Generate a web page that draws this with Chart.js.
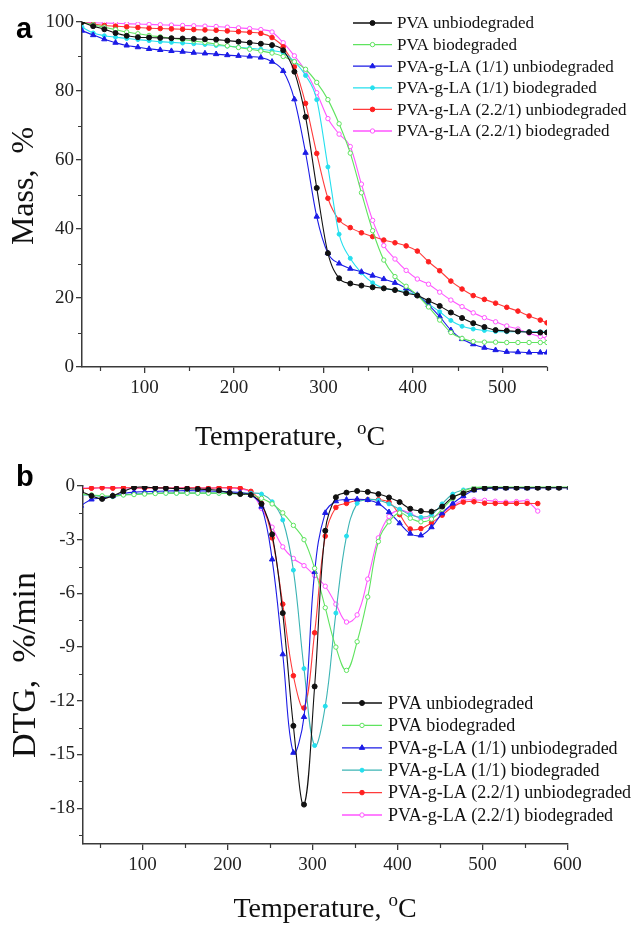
<!DOCTYPE html>
<html lang="en">
<head>
<meta charset="utf-8">
<script src="https://cdn.jsdelivr.net/npm/chart.js"></script>
<style>
    html, body { margin: 0; padding: 0; background: #fff; }
    #wrap { position: relative; width: 636px; height: 926px; }
    #wrap canvas { position: absolute; left: 0; }
</style>
</head>
<body>
<div id="wrap">
    <canvas id="tga" width="636" height="463" style="top:0"></canvas>
    <canvas id="dtg" width="636" height="463" style="top:463px"></canvas>
</div>
<script>
// ---- data ----
const seriesNames = [
    'PVA unbiodegraded',
    'PVA biodegraded',
    'PVA-g-LA (1/1) unbiodegraded',
    'PVA-g-LA (1/1) biodegraded',
    'PVA-g-LA (2.2/1) unbiodegraded',
    'PVA-g-LA (2.2/1) biodegraded'
];

// panel a: mass %
const tempsTga = [30, 42.5, 55, 67.5, 80, 92.5, 105, 117.5, 130, 142.5, 155, 167.5, 180, 192.5, 205, 217.5, 230, 242.5, 255, 267.5,
    280, 292.5, 305, 317.5, 330, 342.5, 355, 367.5, 380, 392.5, 405, 417.5, 430, 442.5, 455, 467.5, 480, 492.5, 505, 517.5, 530, 542.5, 550];
const massPvaUnbio = [100, 98.8, 97.9, 96.8, 96.0, 95.6, 95.5, 95.4, 95.3, 95.2, 95.1, 95.0, 94.9, 94.6, 94.3, 94.0, 93.7, 93.3, 91.8, 85.6,
    72.5, 51.9, 33.0, 25.7, 24.2, 23.6, 23.1, 22.8, 22.3, 21.4, 20.7, 19.2, 17.7, 15.8, 14.2, 12.7, 11.6, 10.7, 10.5, 10.3, 10.1, 10.0, 10.0];
const massPvaBio = [100, 99.2, 98.5, 97.8, 97.1, 96.6, 96.1, 95.7, 95.3, 94.9, 94.5, 94.1, 93.6, 93.1, 92.6, 92.1, 91.6, 91.0, 90.0, 88.5,
    86.3, 82.5, 77.5, 70.5, 62.0, 50.5, 39.5, 31.0, 26.2, 23.4, 20.8, 17.4, 13.6, 10.0, 8.3, 7.4, 7.2, 7.2, 7.1, 7.1, 7.1, 7.1, 7.1];
const massLa11Unbio = [97.5, 96.2, 95.0, 94.0, 93.2, 92.7, 92.2, 91.9, 91.6, 91.4, 91.1, 90.9, 90.7, 90.4, 90.2, 90.0, 89.7, 88.5, 85.8, 77.6,
    62.1, 43.6, 33.0, 30.0, 28.5, 27.6, 26.5, 25.5, 24.4, 22.8, 20.9, 18.0, 14.6, 10.7, 8.1, 6.6, 5.6, 4.9, 4.4, 4.3, 4.2, 4.2, 4.2];
const massLa11Bio = [98.5, 96.8, 96.0, 95.6, 95.2, 94.9, 94.6, 94.3, 94.1, 93.9, 93.7, 93.5, 93.2, 93.0, 92.7, 92.4, 92.1, 91.7, 91.0, 88.5,
    84.5, 77.5, 58.0, 38.5, 31.5, 27.3, 24.4, 22.8, 22.3, 21.8, 20.8, 18.3, 16.0, 13.5, 11.8, 11.0, 10.6, 10.3, 10.2, 10.2, 10.2, 10.2, 10.2];
const massLa22Unbio = [100, 99.4, 99.0, 98.8, 98.6, 98.4, 98.2, 98.1, 98.0, 97.9, 97.8, 97.7, 97.6, 97.4, 97.2, 97.0, 96.7, 95.5, 92.8, 87.0,
    76.4, 61.9, 48.9, 42.6, 40.4, 38.9, 37.8, 36.8, 36.0, 35.1, 33.6, 30.5, 27.9, 24.9, 22.6, 20.7, 19.6, 18.5, 17.3, 16.2, 14.8, 13.6, 12.8];
const massLa22Bio = [100, 99.8, 99.7, 99.6, 99.5, 99.4, 99.3, 99.2, 99.1, 99.0, 98.9, 98.8, 98.7, 98.5, 98.3, 98.1, 97.8, 97.1, 94.0, 90.2,
    85.8, 79.5, 72.0, 67.5, 63.9, 53.0, 42.5, 35.2, 31.3, 28.0, 25.5, 24.0, 21.7, 19.4, 17.5, 15.7, 14.3, 13.1, 11.9, 11.0, 9.8, 8.8, 8.3];
const tgaXTicks = [100, 200, 300, 400, 500];
const tgaYTicks = [0, 20, 40, 60, 80, 100];

// panel b: DTG %/min
const tempsDtg = [27.5, 40, 52.5, 65, 77.5, 90, 102.5, 115, 127.5, 140, 152.5, 165, 177.5, 190, 202.5, 215, 227.5, 240, 252.5, 265,
    277.5, 290, 302.5, 315, 327.5, 340, 352.5, 365, 377.5, 390, 402.5, 415, 427.5, 440, 452.5, 465, 477.5, 490, 502.5, 515,
    527.5, 540, 552.5, 565, 577.5, 590, 602.5];
const dtgPvaUnbio = [-0.3, -0.55, -0.72, -0.55, -0.3, -0.08, -0.06, -0.1, -0.12, -0.14, -0.15, -0.17, -0.2, -0.25, -0.38, -0.45, -0.5, -1.0, -2.7, -7.1,
    -13.4, -17.8, -11.2, -2.5, -0.63, -0.37, -0.28, -0.33, -0.45, -0.64, -0.9, -1.27, -1.4, -1.43, -1.15, -0.62, -0.41, -0.2, -0.12, -0.1,
    -0.1, -0.1, -0.1, -0.1, -0.1, -0.1, -0.1];
const dtgPvaBio = [-0.45, -0.5, -0.55, -0.55, -0.5, -0.48, -0.45, -0.42, -0.4, -0.4, -0.4, -0.4, -0.4, -0.4, -0.42, -0.45, -0.5, -0.69, -1.0, -1.5,
    -2.2, -3.0, -4.6, -6.8, -9.0, -10.3, -8.7, -6.2, -3.1, -2.0, -1.5, -1.8, -2.0, -1.85, -1.3, -0.7, -0.3, -0.1, -0.06, -0.06,
    -0.06, -0.06, -0.06, -0.06, -0.06, -0.06, -0.06];
const dtgLa11Unbio = [-1.1, -0.75, -0.68, -0.55, -0.42, -0.34, -0.32, -0.3, -0.28, -0.27, -0.26, -0.27, -0.28, -0.3, -0.33, -0.37, -0.5, -1.15, -4.1, -9.4,
    -14.9, -12.9, -4.8, -1.5, -0.85, -0.76, -0.74, -0.78, -0.98, -1.46, -2.08, -2.66, -2.76, -2.3, -1.52, -0.98, -0.56, -0.24, -0.14, -0.12,
    -0.12, -0.1, -0.12, -0.1, -0.1, -0.1, -0.1];
const dtgLa11Bio = [-0.5, -0.52, -0.58, -0.6, -0.5, -0.45, -0.42, -0.4, -0.4, -0.4, -0.4, -0.4, -0.4, -0.4, -0.4, -0.4, -0.4, -0.45, -0.88, -1.9,
    -4.7, -10.2, -14.5, -12.3, -7.1, -2.8, -0.97, -0.76, -0.8, -1.0, -1.3, -1.6, -1.75, -1.6, -1.0, -0.45, -0.22, -0.1, -0.08, -0.08,
    -0.08, -0.08, -0.08, -0.08, -0.08, -0.08, -0.08];
const dtgLa22Unbio = [-0.15, -0.12, -0.1, -0.12, -0.1, -0.1, -0.12, -0.1, -0.1, -0.12, -0.1, -0.1, -0.12, -0.1, -0.1, -0.12, -0.3, -0.97, -2.9, -6.6,
    -10.6, -12.4, -8.2, -2.8, -1.2, -0.97, -0.8, -0.76, -0.77, -0.9, -1.6, -2.4, -2.38, -2.06, -1.63, -1.17, -0.9, -0.88, -0.96, -0.97,
    -0.97, -0.97, -0.97, -0.98, null, null, null];
const dtgLa22Bio = [-0.1, -0.12, -0.1, -0.08, -0.1, -0.12, -0.1, -0.1, -0.12, -0.1, -0.1, -0.1, -0.12, -0.1, -0.12, -0.15, -0.35, -1.25, -2.3, -3.4,
    -4.05, -4.45, -5.0, -5.6, -6.6, -7.6, -7.2, -5.2, -2.9, -1.7, -1.35, -1.53, -1.8, -1.75, -1.5, -1.08, -0.8, -0.78, -0.8, -0.85,
    -0.9, -0.87, -0.86, -1.4, null, null, null];
const dtgXTicks = [100, 200, 300, 400, 500, 600];
const dtgYTicks = [-18, -15, -12, -9, -6, -3, 0];

// ---- look ----
const serif = '"Liberation Serif", "Times New Roman", serif';
const axisColor = '#3a3a3a';
const tickFont = { family: serif, size: 19 };

// line colour, marker fill, marker edge, shape, radius
const lookTga = [
    { line: '#111111', fill: '#111111', edge: '#111111', shape: 'circle', r: 2.5 },
    { line: '#5fe35f', fill: '#ffffff', edge: '#5fe35f', shape: 'circle', r: 2.2 },
    { line: '#1b1be6', fill: '#1b1be6', edge: '#1b1be6', shape: 'triangle', r: 3.1 },
    { line: '#25dfee', fill: '#25dfee', edge: '#25dfee', shape: 'circle', r: 2.0 },
    { line: '#ff3b3b', fill: '#ff2020', edge: '#ff2020', shape: 'circle', r: 2.3 },
    { line: '#ff55ff', fill: '#ffffff', edge: '#ff55ff', shape: 'circle', r: 2.2 }
];
const lookDtg = lookTga.map((s, i) => i === 3 ? { ...s, line: '#3cb4b4' } : s);

function makeDatasets(temps, seriesList, look, interp) {
    return seriesList.map((vals, i) => {
        const st = look[i];
        return Object.assign({
            label: seriesNames[i],
            data: temps.map((t, j) => ({ x: t, y: vals[j] })),
            borderColor: st.line,
            borderWidth: 1.1,
            pointStyle: st.shape,
            pointRadius: st.r,
            pointBackgroundColor: st.fill,
            pointBorderColor: st.edge,
            pointBorderWidth: 1,
            fill: false
        }, interp);
    });
}

function minorValues(min, max, step, major) {
    const out = [];
    const start = Math.ceil(min / step - 1e-9);
    for (let i = start; i * step <= max + 1e-9; i++) {
        const v = i * step;
        const r = v / major;
        if (Math.abs(r - Math.round(r)) > 1e-6) out.push(v);
    }
    return out;
}

function drawMarker(ctx, st, x, y) {
    ctx.fillStyle = st.fill;
    ctx.strokeStyle = st.edge;
    ctx.lineWidth = 1;
    ctx.beginPath();
    if (st.shape === 'triangle') {
        const r = st.r;
        ctx.moveTo(x, y - r);
        ctx.lineTo(x + r * 0.87, y + r * 0.5);
        ctx.lineTo(x - r * 0.87, y + r * 0.5);
        ctx.closePath();
    } else {
        ctx.arc(x, y, st.r, 0, Math.PI * 2);
    }
    ctx.fill();
    ctx.stroke();
}

// panel letter, axis titles, minor ticks and the legend box
const decor = {
    id: 'decor',
    afterDraw(chart, args, o) {
        const ctx = chart.ctx, area = chart.chartArea;
        const xs = chart.scales.x, ys = chart.scales.y;
        ctx.save();

        ctx.strokeStyle = axisColor;
        ctx.lineWidth = 1.2;
        ctx.beginPath();
        minorValues(xs.min, xs.max, o.minorX[0], o.minorX[1]).forEach(v => {
            const p = Math.round(xs.getPixelForValue(v)) + 0.5;
            ctx.moveTo(p, area.bottom);
            ctx.lineTo(p, area.bottom + 4);
        });
        minorValues(ys.min, ys.max, o.minorY[0], o.minorY[1]).forEach(v => {
            const p = Math.round(ys.getPixelForValue(v)) + 0.5;
            ctx.moveTo(area.left, p);
            ctx.lineTo(area.left - 4, p);
        });
        ctx.stroke();

        // panel letter
        ctx.fillStyle = '#000';
        ctx.font = 'bold 29px "Liberation Sans", Arial, sans-serif';
        ctx.textAlign = 'left';
        ctx.textBaseline = 'alphabetic';
        ctx.fillText(o.panel, o.panelX, o.panelY);

        // y title
        ctx.save();
        ctx.translate(o.yTitleX, o.yTitleY);
        ctx.rotate(-Math.PI / 2);
        ctx.font = o.yTitleSize + 'px ' + serif;
        ctx.fillStyle = '#111';
        ctx.textAlign = 'center';
        ctx.fillText(o.yTitle, 0, 0);
        ctx.restore();

        // x title with raised o
        const big = o.xTitleSize + 'px ' + serif;
        const small = Math.round(o.xTitleSize * 0.68) + 'px ' + serif;
        const main = 'Temperature,' + o.xGap;
        ctx.font = big;
        const w1 = ctx.measureText(main).width;
        const w3 = ctx.measureText('C').width;
        ctx.font = small;
        const w2 = ctx.measureText('o').width;
        let x = o.xTitleX - (w1 + w2 + w3) / 2;
        ctx.fillStyle = '#111';
        ctx.font = big;
        ctx.fillText(main, x, o.xTitleY);
        x += w1;
        ctx.font = small;
        ctx.fillText('o', x, o.xTitleY - o.xTitleSize * 0.38);
        x += w2;
        ctx.font = big;
        ctx.fillText('C', x, o.xTitleY);

        // legend
        const lg = o.legend;
        ctx.font = lg.size + 'px ' + serif;
        ctx.textBaseline = 'middle';
        chart.data.datasets.forEach((ds, i) => {
            const y = lg.y + i * lg.gap;
            const st = o.look[i];
            ctx.strokeStyle = st.line;
            ctx.lineWidth = 1.3;
            ctx.beginPath();
            ctx.moveTo(lg.x1, y);
            ctx.lineTo(lg.x2, y);
            ctx.stroke();
            drawMarker(ctx, st, (lg.x1 + lg.x2) / 2, y);
            ctx.fillStyle = '#111';
            ctx.fillText(ds.label, lg.tx, y + 1);
        });
        ctx.restore();
    }
};

function scaleOpts(min, max, tickList, fitSize, horizontal) {
    return {
        type: 'linear',
        min: min,
        max: max,
        afterBuildTicks: s => { s.ticks = tickList.map(v => ({ value: v })); },
        afterFit: s => { if (horizontal) s.height = fitSize; else s.width = fitSize; },
        grid: { drawOnChartArea: false, drawTicks: true, tickLength: 6, color: axisColor, lineWidth: 1.3 },
        border: { display: true, color: axisColor, width: 1.5 },
        ticks: { font: tickFont, color: '#222', padding: horizontal ? 4 : 2, maxRotation: 0, autoSkip: false }
    };
}

new Chart(document.getElementById('tga'), {
    type: 'line',
    data: {
        datasets: makeDatasets(tempsTga,
            [massPvaUnbio, massPvaBio, massLa11Unbio, massLa11Bio, massLa22Unbio, massLa22Bio],
            lookTga, { cubicInterpolationMode: 'monotone' })
    },
    options: {
        responsive: false,
        animation: false,
        devicePixelRatio: 1,
        layout: { padding: { left: 0, top: 22, right: 89, bottom: 0 } },
        plugins: {
            legend: { display: false },
            tooltip: { enabled: false },
            decor: {
                panel: 'a', panelX: 16, panelY: 38,
                yTitle: 'Mass,  %', yTitleX: 33, yTitleY: 186, yTitleSize: 32,
                xTitleX: 290, xTitleY: 445, xTitleSize: 28, xGap: '  ',
                minorX: [50, 100], minorY: [10, 20],
                look: lookTga,
                legend: { x1: 353, x2: 392, tx: 397, y: 23, gap: 21.6, size: 17 }
            }
        },
        scales: {
            x: scaleOpts(30, 550, tgaXTicks, 96, true),
            y: scaleOpts(0, 100, tgaYTicks, 82, false)
        }
    },
    plugins: [decor]
});

new Chart(document.getElementById('dtg'), {
    type: 'line',
    data: {
        datasets: makeDatasets(tempsDtg,
            [dtgPvaUnbio, dtgPvaBio, dtgLa11Unbio, dtgLa11Bio, dtgLa22Unbio, dtgLa22Bio],
            lookDtg, { tension: 0.4 })
    },
    options: {
        responsive: false,
        animation: false,
        devicePixelRatio: 1,
        layout: { padding: { left: 0, top: 23, right: 68.5, bottom: 0 } },
        plugins: {
            legend: { display: false },
            tooltip: { enabled: false },
            decor: {
                panel: 'b', panelX: 16, panelY: 23,
                yTitle: 'DTG,  %/min', yTitleX: 35, yTitleY: 202, yTitleSize: 34,
                xTitleX: 325, xTitleY: 454, xTitleSize: 28, xGap: ' ',
                minorX: [50, 100], minorY: [1.5, 3],
                look: lookDtg,
                legend: { x1: 342, x2: 382, tx: 388, y: 240, gap: 22.4, size: 18 }
            }
        },
        scales: {
            x: scaleOpts(30, 600, dtgXTicks, 82, true),
            y: scaleOpts(-20, 0, dtgYTicks, 83, false)
        }
    },
    plugins: [decor]
});
</script>
</body>
</html>
